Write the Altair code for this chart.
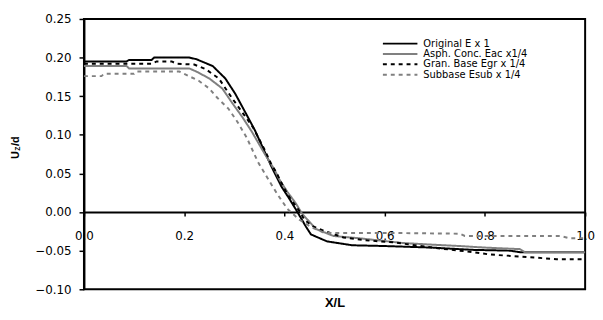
import altair as alt
import pandas as pd

series_names = ["Original E x 1", "Asph. Conc. Eac x1/4", "Gran. Base Egr x 1/4", "Subbase Esub x 1/4"]
series_colors = ["#000000", "#808080", "#000000", "#808080"]

x_orig = [0.0, 0.085, 0.09, 0.135, 0.14, 0.21, 0.224, 0.257, 0.282, 0.302, 0.322, 0.341, 0.355, 0.374, 0.394, 0.41, 0.426, 0.443, 0.453, 0.485, 0.535, 0.6, 0.694, 0.72, 0.778, 0.85, 0.87, 1.0]
y_orig = [0.195, 0.195, 0.197, 0.197, 0.200, 0.200, 0.198, 0.189, 0.173, 0.153, 0.129, 0.106, 0.086, 0.059, 0.033, 0.017, 0.000, -0.019, -0.029, -0.038, -0.043, -0.044, -0.046, -0.047, -0.049, -0.050, -0.052, -0.052]

x_asph = [0.0, 0.085, 0.09, 0.21, 0.224, 0.25, 0.276, 0.296, 0.316, 0.335, 0.36, 0.38, 0.39, 0.406, 0.423, 0.435, 0.463, 0.498, 0.55, 0.635, 0.688, 0.75, 0.8, 0.87, 0.88, 1.0]
y_asph = [0.189, 0.189, 0.186, 0.186, 0.182, 0.173, 0.160, 0.141, 0.123, 0.104, 0.076, 0.055, 0.042, 0.026, 0.011, -0.002, -0.022, -0.031, -0.034, -0.040, -0.042, -0.044, -0.046, -0.048, -0.052, -0.052]

x_gran = [0.0, 0.135, 0.145, 0.175, 0.185, 0.22, 0.243, 0.269, 0.296, 0.316, 0.337, 0.361, 0.373, 0.384, 0.394, 0.406, 0.429, 0.44, 0.455, 0.482, 0.518, 0.57, 0.616, 0.694, 0.778, 0.81, 0.857, 0.943, 1.0]
y_gran = [0.192, 0.192, 0.195, 0.195, 0.192, 0.191, 0.185, 0.173, 0.147, 0.129, 0.110, 0.080, 0.063, 0.051, 0.038, 0.023, 0.002, -0.010, -0.018, -0.025, -0.033, -0.037, -0.039, -0.046, -0.052, -0.055, -0.057, -0.061, -0.061]

x_sub = [0.0, 0.035, 0.04, 0.1, 0.105, 0.19, 0.229, 0.25, 0.266, 0.288, 0.306, 0.325, 0.347, 0.37, 0.386, 0.406, 0.43, 0.455, 0.48, 0.6, 0.75, 0.76, 0.95, 0.97, 1.0]
y_sub = [0.176, 0.176, 0.179, 0.179, 0.182, 0.182, 0.170, 0.160, 0.148, 0.134, 0.117, 0.096, 0.065, 0.040, 0.023, 0.004, -0.010, -0.020, -0.027, -0.027, -0.028, -0.031, -0.031, -0.034, -0.034]

x_ticks = [0.0, 0.2, 0.4, 0.6, 0.8, 1.0]
y_ticks = [-0.10, -0.05, 0.0, 0.05, 0.10, 0.15, 0.20, 0.25]

rows = []
for name, xs, ys in zip(series_names, [x_orig, x_asph, x_gran, x_sub], [y_orig, y_asph, y_gran, y_sub]):
    for i, (a, b) in enumerate(zip(xs, ys)):
        rows.append({"series": name, "x": a, "y": b, "order": i})
df = pd.DataFrame(rows)

W, H = 508, 274
zero_offset = -H * 0.10 / 0.35

legend_kw = dict(title=None, orient="none", legendX=302, legendY=20,
                 symbolType="stroke", symbolSize=1225, symbolStrokeWidth=2,
                 clipHeight=10, rowPadding=0.5, padding=0, labelOffset=5,
                 labelFont="DejaVu Sans", labelFontSize=10, labelColor="black")

lines = alt.Chart(df).mark_line(interpolate="linear").encode(
    x=alt.X("x:Q", scale=alt.Scale(domain=[0, 1], nice=False),
            axis=alt.Axis(values=x_ticks, format=".1f", title="X/L", offset=zero_offset,
                          tickSize=4, tickWidth=1.5, tickColor="black",
                          domainColor="black", domainWidth=2, labelPadding=15, labelFlush=False,
                          labelFont="DejaVu Sans", labelFontSize=12, labelColor="black",
                          titleFont="Liberation Sans", titleFontSize=13, titleFontWeight="bold",
                          titleY=92, titleBaseline="middle", grid=False)),
    y=alt.Y("y:Q", scale=alt.Scale(domain=[-0.10, 0.25], nice=False, zero=False),
            axis=alt.Axis(values=y_ticks, format=".2f", title=None,
                          tickSize=5, tickWidth=1.5, tickColor="black",
                          domainColor="black", domainWidth=2, labelPadding=8,
                          labelFont="DejaVu Sans", labelFontSize=12, labelColor="black", grid=False)),
    color=alt.Color("series:N", scale=alt.Scale(domain=series_names, range=series_colors),
                    legend=alt.Legend(**legend_kw)),
    strokeDash=alt.StrokeDash("series:N", scale=alt.Scale(domain=series_names, range=[[1, 0], [1, 0], [4, 4], [4, 4]]),
                              legend=alt.Legend(**legend_kw)),
    strokeWidth=alt.StrokeWidth("series:N", scale=alt.Scale(domain=series_names, range=[2, 2, 2, 1.5]), legend=None),
    order="order:Q",
)

t_u = alt.Chart(pd.DataFrame({"t": ["U"]})).mark_text(angle=270, font="Liberation Sans", fontSize=11, fontWeight="bold", align="center", baseline="middle", color="black").encode(
    text="t:N", x=alt.value(-69), y=alt.value(138))
t_z = alt.Chart(pd.DataFrame({"t": ["Z"]})).mark_text(angle=270, font="Liberation Sans", fontSize=7, fontWeight="bold", align="center", baseline="middle", color="black").encode(
    text="t:N", x=alt.value(-67), y=alt.value(131.5))
t_d = alt.Chart(pd.DataFrame({"t": ["/d"]})).mark_text(angle=270, font="Liberation Sans", fontSize=11, fontWeight="bold", align="center", baseline="middle", color="black").encode(
    text="t:N", x=alt.value(-69), y=alt.value(124))

chart = alt.layer(lines, t_u, t_z, t_d).properties(
    width=W, height=H,
    background="white",
    autosize=alt.AutoSizeParams(type="none"),
    padding={"left": 77, "top": 9, "right": 10, "bottom": 28},
).configure_view(stroke="black", strokeWidth=2)

chart.save("out.html", embed_options={"renderer": "svg", "actions": False})
